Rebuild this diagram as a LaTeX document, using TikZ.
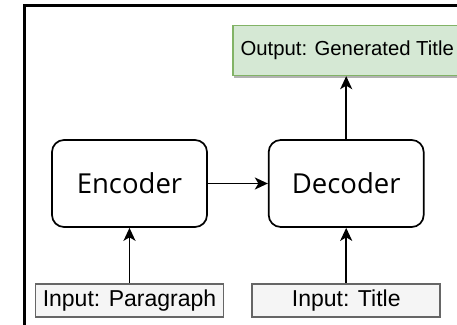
\documentclass[tikz,border=0pt]{standalone}
\usepackage{fontspec}
\usetikzlibrary{positioning, arrows.meta, shadows}
\newfontfamily\blockfont{Open Sans}
\newfontfamily\labelfont{Liberation Sans}
\definecolor{inFill}{HTML}{F5F5F5}
\definecolor{inDraw}{HTML}{666666}
\definecolor{outFill}{HTML}{D5E8D4}
\definecolor{outDraw}{HTML}{82B366}
\tikzset{
  arr/.style={-{Stealth[length=13pt, width=12pt, inset=3.5pt]}, line width=1.8pt},
  block/.style={draw, rounded corners=12pt, line width=1.7pt, minimum width=155pt,
                minimum height=87pt, inner sep=0pt, font=\blockfont\fontsize{27.5}{30}\selectfont},
  inbox/.style={draw=inDraw, fill=inFill, line width=1.7pt, minimum width=188pt,
                minimum height=33pt, inner sep=0pt, font=\labelfont\fontsize{23}{26}\selectfont},
  outbox/.style={draw=outDraw, fill=outFill, line width=1.6pt, minimum width=228pt,
                 minimum height=50pt, inner sep=0pt, font=\labelfont\fontsize{20.3}{24}\selectfont,
                 drop shadow={shadow xshift=1pt, shadow yshift=-3pt, fill=gray!60, opacity=1}},
}

\begin{document}
\begin{tikzpicture}[x=1pt, y=-1pt]
  \useasboundingbox (0,0) rectangle (457,324);
  \clip (0,0) rectangle (457,324);
  % frame
  \draw[line width=3pt] (24,340) -- (24,5) -- (470,5);
  % encoder / decoder
  \node[block] (enc) at (129.5,183.5) {Encoder};
  \node[block, right=60pt of enc] (dec) {Decoder};
  % inputs and output
  \node[inbox, below=55pt of enc] (inpar) {Input: Paragraph};
  \node[inbox, below=55pt of dec] (intit) {Input: Title};
  \node[outbox, above=63pt of dec, xshift=1pt] (out) {Output: Generated Title};
  \draw[arr] (enc) -- (dec);
  \draw[arr] (inpar) -- (enc);
  \draw[arr] (intit) -- (dec);
  \draw[arr] (dec.north) -- (dec.north |- out.south);
\end{tikzpicture}
\end{document}
